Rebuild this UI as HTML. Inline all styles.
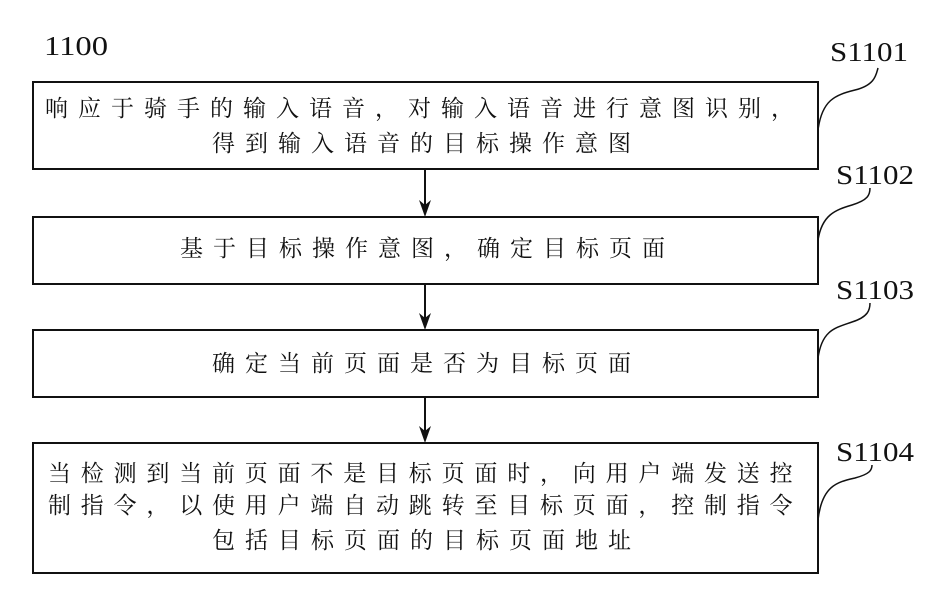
<!DOCTYPE html>
<html><head><meta charset="utf-8"><style>
body{margin:0;background:#fff;}
svg text{font-family:"Liberation Serif","Noto Serif CJK SC",serif;fill:#111;}
.c{font-family:"Noto Serif CJK SC","Liberation Serif",serif;font-size:23px;letter-spacing:10px;}
</style></head><body>
<svg width="926" height="607" xmlns="http://www.w3.org/2000/svg">
<g fill="none" stroke="#111" stroke-width="2">
<rect x="33" y="82" width="785" height="87"/>
<rect x="33" y="217" width="785" height="67"/>
<rect x="33" y="330" width="785" height="67"/>
<rect x="33" y="443" width="785" height="130"/>
<path d="M425,169 V205"/>
<path d="M425,284 V318"/>
<path d="M425,397 V431"/>
<path d="M818,130 C822,100 835,95 855,90 C875,85 876,75 878,68" stroke-width="1.5"/>
<path d="M818,240 C822,215 835,210 852,205 C868,200 870,195 870,188" stroke-width="1.5"/>
<path d="M818,358 C822,330 835,328 852,322 C868,317 870,310 870,303" stroke-width="1.5"/>
<path d="M818,520 C822,485 838,482 855,478 C870,474 872,470 872,465" stroke-width="1.5"/>
</g>
<g fill="#111">
<path d="M419,200 L425,217 L431,200 L425,205 Z"/>
<path d="M419,313 L425,330 L431,313 L425,318 Z"/>
<path d="M419,426 L425,443 L431,426 L425,431 Z"/>
</g>
<text x="44" y="55" font-size="27" textLength="64" lengthAdjust="spacingAndGlyphs">1100</text>
<text x="830" y="61" font-size="27" textLength="78" lengthAdjust="spacingAndGlyphs">S1101</text>
<text x="836" y="184" font-size="27" textLength="78" lengthAdjust="spacingAndGlyphs">S1102</text>
<text x="836" y="299" font-size="27" textLength="78" lengthAdjust="spacingAndGlyphs">S1103</text>
<text x="836" y="461" font-size="27" textLength="78" lengthAdjust="spacingAndGlyphs">S1104</text>
<text class="c" x="45" y="116">响应于骑手的输入语音，对输入语音进行意图识别，</text>
<text class="c" x="212" y="151">得到输入语音的目标操作意图</text>
<text class="c" x="180" y="256">基于目标操作意图，确定目标页面</text>
<text class="c" x="212" y="371">确定当前页面是否为目标页面</text>
<text class="c" x="48" y="481" style="letter-spacing:9.8px">当检测到当前页面不是目标页面时，向用户端发送控</text>
<text class="c" x="48" y="513" style="letter-spacing:9.8px">制指令，以使用户端自动跳转至目标页面，控制指令</text>
<text class="c" x="212" y="548">包括目标页面的目标页面地址</text>
</svg>
</body></html>
